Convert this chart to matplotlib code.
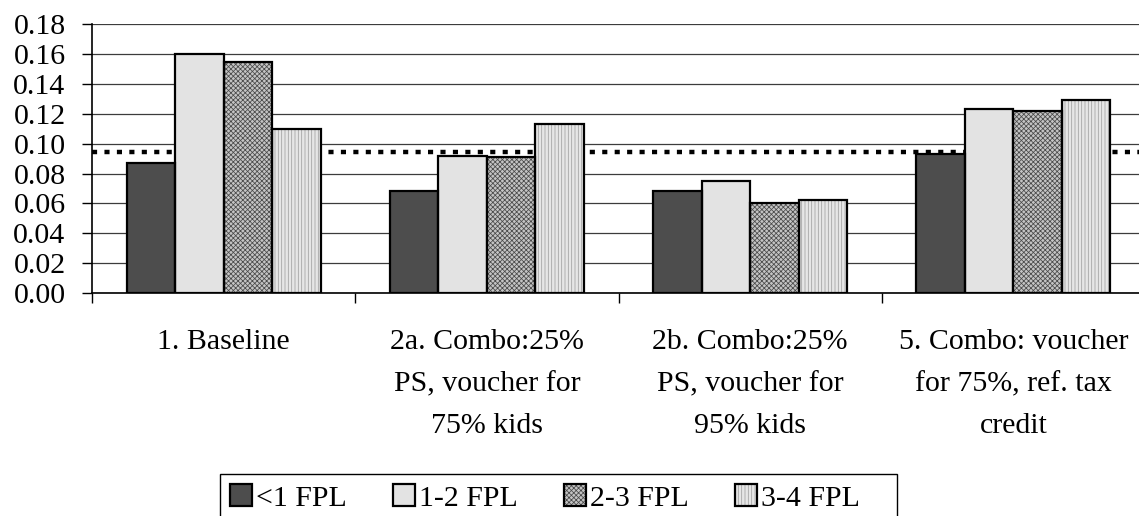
import numpy as np
import matplotlib
matplotlib.use("Agg")
import matplotlib.pyplot as plt
from matplotlib.patches import Patch, Rectangle
from matplotlib.legend_handler import HandlerTuple

# --- data ---
scenarios = [
    "1. Baseline",
    "2a. Combo:25%\nPS, voucher for\n75% kids",
    "2b. Combo:25%\nPS, voucher for\n95% kids",
    "5. Combo: voucher\nfor 75%, ref. tax\ncredit",
]
groups = ["<1 FPL", "1-2 FPL", "2-3 FPL", "3-4 FPL"]
below_1 = [0.087, 0.068, 0.068, 0.093]
fpl_1_2 = [0.160, 0.092, 0.075, 0.123]
fpl_2_3 = [0.155, 0.091, 0.060, 0.122]
fpl_3_4 = [0.110, 0.113, 0.062, 0.129]
reference_level = 0.0945
y_ticks = [0.00, 0.02, 0.04, 0.06, 0.08, 0.10, 0.12, 0.14, 0.16, 0.18]

series = [below_1, fpl_1_2, fpl_2_3, fpl_3_4]

# fill, hatch, hatch colour per income group
styles = [
    ("#4d4d4d", "", "#4d4d4d"),
    ("#e3e3e3", "", "#e3e3e3"),
    ("#c4c4c4", "xxxxxxx", "#4a4a4a"),
    ("#e6e6e6", "|||||", "#a0a0a0"),
]

plt.rcParams["font.family"] = ["Liberation Serif", "DejaVu Serif"]
plt.rcParams["hatch.linewidth"] = 0.55
FS = 21.5

W, H = 1139, 516
fig = plt.figure(figsize=(W / 100, H / 100), dpi=100)
ax = fig.add_axes([92 / W, (H - 293) / H, 1053 / W, 269 / H])

x = np.arange(len(scenarios)) + 0.5
bw = 0.184
handles = []
for k, vals in enumerate(series):
    face, hatch, hcol = styles[k]
    pos = x + (k - 1.5) * bw
    ax.bar(pos, vals, bw, color=face, hatch=hatch, edgecolor=hcol,
           linewidth=0, zorder=2)
    ax.bar(pos, vals, bw, fill=False, edgecolor="black", linewidth=1.6, zorder=3)
    handles.append((
        Patch(facecolor=face, hatch=hatch, edgecolor=hcol, linewidth=0),
        Patch(fill=False, edgecolor="black", linewidth=1.6),
    ))

ax.axhline(reference_level, color="black", lw=3.2, linestyle=(0, (1.15, 1.65)),
           dash_capstyle="butt", zorder=1.5)

ax.set_xlim(0, len(scenarios))
ax.set_ylim(0, 0.1802)
ax.set_yticks(y_ticks)
ax.set_yticklabels([f"{t:.2f}" for t in y_ticks], fontsize=FS)
ax.yaxis.grid(True, color="#3c3c3c", linewidth=0.9)
ax.set_axisbelow(True)

ax.set_xticks(np.arange(len(scenarios) + 1))
ax.set_xticklabels([])
ax.set_xticks(x, minor=True)
ax.set_xticklabels(scenarios, minor=True, fontsize=FS, linespacing=1.8,
                   ha="center", va="top")
ax.tick_params(axis="x", which="major", direction="out", length=7, width=1)
ax.tick_params(axis="x", which="minor", length=0, pad=26)
ax.tick_params(axis="y", direction="out", length=7, width=1, pad=12)

for side in ("top", "right"):
    ax.spines[side].set_visible(False)
for side in ("left", "bottom"):
    ax.spines[side].set_color("black")
    ax.spines[side].set_linewidth(1.2)

# legend entries without frame; the box is drawn separately so it can be wider
fig.legend(handles, groups, handler_map={tuple: HandlerTuple(ndivide=1)},
           loc="upper left", bbox_to_anchor=(220 / W, 1 - 474 / H),
           ncol=4, fontsize=FS, frameon=False,
           handlelength=0.72, handleheight=0.72,
           handletextpad=0.15, columnspacing=1.55, borderpad=0.35,
           borderaxespad=0)
fig.patches.append(Rectangle((220 / W, -0.05), 677 / W, 0.05 + (H - 474) / H,
                             transform=fig.transFigure, fill=False,
                             edgecolor="black", linewidth=1.0))

fig.savefig("out.png", dpi=100)
